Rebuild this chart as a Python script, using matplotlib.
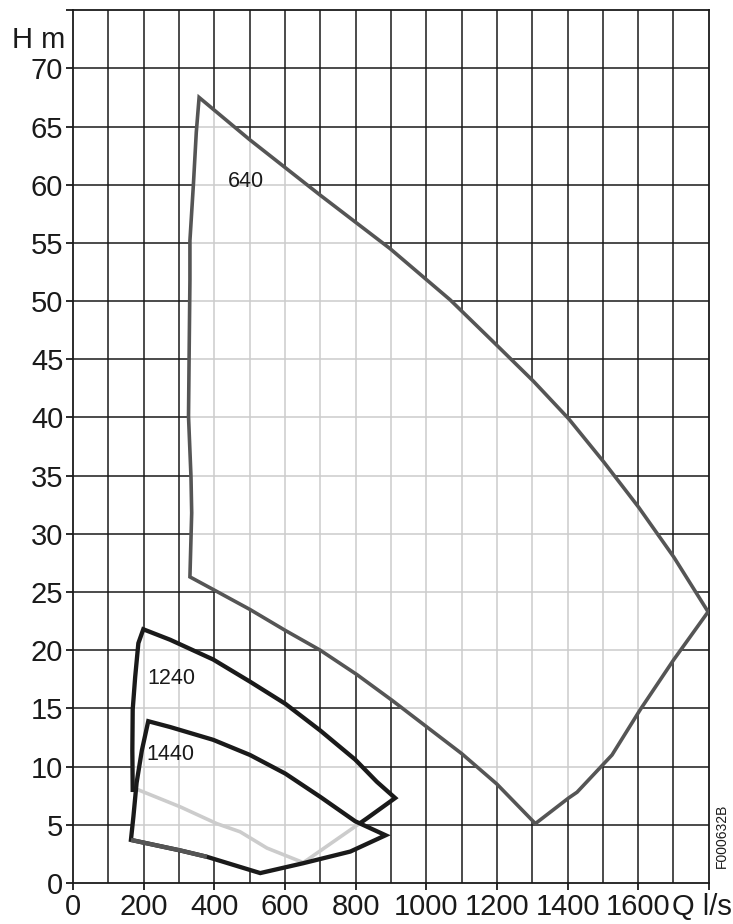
import matplotlib
matplotlib.use("Agg")
import matplotlib.pyplot as plt
from matplotlib.patches import Polygon
import numpy as np

plt.rcParams["font.family"] = ["Liberation Sans", "DejaVu Sans"]

# Campo de trabajo 640 rpm (contorno cerrado, Q en l/s, H en m)
q640 = [357, 499, 700, 898, 1068, 1200, 1304, 1403, 1502, 1601, 1701, 1798,
        1701, 1606, 1526, 1427, 1403, 1309,
        1200, 1101, 1002, 903, 804, 700, 601, 501, 398, 331,
        336, 334, 327, 329, 331, 331, 341, 349]
h640 = [67.5, 63.9, 59.1, 54.5, 50.1, 46.2, 43.1, 39.9, 36.2, 32.3, 28.0, 23.3,
        19.2, 14.9, 11.0, 7.8, 7.3, 5.1,
        8.5, 11.1, 13.4, 15.7, 17.9, 20.0, 21.7, 23.5, 25.2, 26.3,
        31.8, 34.9, 40.1, 46.1, 51.8, 55.2, 60.1, 64.5]

# Campo 1240 rpm
q1240 = [199, 275, 397, 501, 601, 700, 799, 860, 912, 832, 652,
         549, 473, 407, 303, 185, 169, 168, 169, 176, 185]
h1240 = [21.8, 20.9, 19.2, 17.3, 15.4, 13.1, 10.6, 8.7, 7.3, 5.55, 1.75,
         3.0, 4.4, 5.1, 6.55, 8.0, 8.0, 11.4, 14.9, 17.7, 20.6]

# Campo 1440 rpm
q1440 = [213, 275, 397, 501, 601, 700, 799, 885, 785, 652, 530,
         379, 303, 164, 171, 180, 195]
h1440 = [13.9, 13.4, 12.3, 11.0, 9.4, 7.4, 5.3, 4.1, 2.7, 1.7, 0.85,
         2.25, 2.8, 3.7, 5.7, 8.6, 11.4]

labels = ["640", "1240", "1440"]
label_q = [490, 278, 275]
label_h = [60.25, 17.6, 11.0]

xticks = [0, 200, 400, 600, 800, 1000, 1200, 1400, 1600]
yticks = list(range(0, 75, 5))

dark = "#1a1a1a"
light = "#cccccc"
grey = "#555555"

fig = plt.figure(figsize=(7.33, 9.24), dpi=100)
ax = fig.add_axes([0.0996, 0.0444, 0.8674, 0.9446])
ax.set_xlim(0, 1800)
ax.set_ylim(0, 75)

gx = np.arange(100, 1800, 100)
gy = np.arange(5, 75, 5)


def grid(color, z, clip=None):
    v = ax.vlines(gx, 0, 75, colors=color, lw=1.1, zorder=z)
    hl = ax.hlines(gy, 0, 1800, colors=color, lw=1.1, zorder=z)
    if clip is not None:
        v.set_clip_path(clip)
        hl.set_clip_path(clip)


# rejilla oscura de fondo
grid(dark, 1)

# interior de los campos con rejilla clara
p640 = Polygon(np.column_stack([q640, h640]), closed=True, fc="white", ec="none", zorder=2)
p1240 = Polygon(np.column_stack([q1240, h1240]), closed=True, fc="white", ec="none", zorder=2)
ax.add_patch(p640)
ax.add_patch(p1240)
grid(light, 3, p640)
grid(light, 3, p1240)

ax.add_patch(Polygon(np.column_stack([q640, h640]), closed=True, fill=False,
                     ec=grey, lw=2.6, zorder=6, joinstyle="miter"))
ax.add_patch(Polygon(np.column_stack([q1240, h1240]), closed=True, fill=False,
                     ec=dark, lw=3.1, zorder=4, joinstyle="miter"))

# 1440 tapa al 1240: las aristas ocultas quedan en gris claro
p1440 = Polygon(np.column_stack([q1440, h1440]), closed=True, fc="white", ec="none", zorder=4.5)
ax.add_patch(p1440)
grid(light, 4.6, p1440)
hidden = Polygon(np.column_stack([q1240, h1240]), closed=True, fill=False,
                 ec=light, lw=2.6, zorder=4.7)
ax.add_patch(hidden)
hidden.set_clip_path(p1440)

ax.add_patch(Polygon(np.column_stack([q1440, h1440]), closed=True, fill=False,
                     ec=dark, lw=3.1, zorder=5, joinstyle="miter"))
ax.plot(q1440[11:14], h1440[11:14], color=grey, lw=3.1, zorder=5.1,
        solid_capstyle="butt")

for t, x, y in zip(labels, label_q, label_h):
    ax.text(x, y, t, fontsize=15.5, color=dark, ha="center", va="center", zorder=7)

ax.set_xticks(xticks + [1800])
ax.set_xticklabels([str(v) for v in xticks] + [""])
ax.set_yticks(yticks + [75])
ax.set_yticklabels([str(v) for v in yticks] + [""])
ax.tick_params(labelsize=21, length=5, width=1.3, color=dark, labelcolor=dark, pad=2)
for s in ax.spines.values():
    s.set_color(dark)
    s.set_linewidth(1.3)

ax.text(1780, -0.9, "Q l/s", fontsize=21, color=dark, ha="center", va="top", clip_on=False)
ax.text(-0.012, 72.4, "H m", fontsize=21, color=dark, ha="right", va="center",
        transform=ax.get_yaxis_transform(), clip_on=False)
fig.text(0.985, 0.095, "F000632B", fontsize=10, rotation=90, ha="center", va="center", color=dark)

fig.savefig("out.png", dpi=100)
